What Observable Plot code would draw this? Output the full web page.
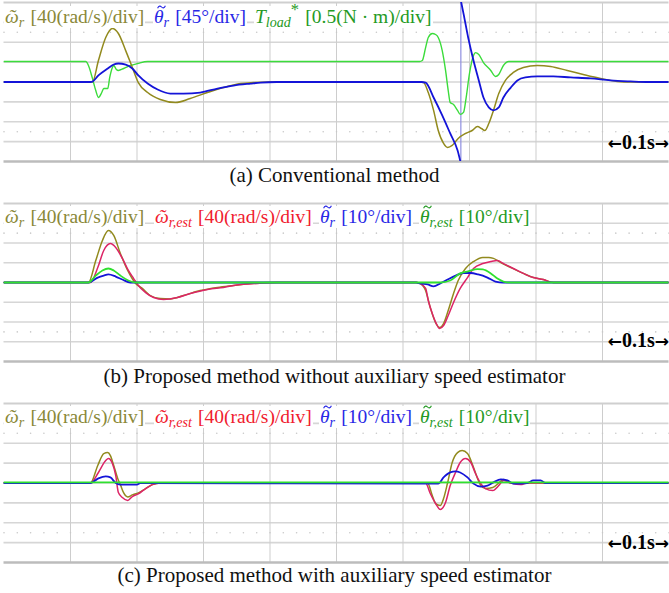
<!DOCTYPE html>
<html>
<head>
<meta charset="utf-8">
<script src="https://cdn.jsdelivr.net/npm/d3@7"></script>
<script src="https://cdn.jsdelivr.net/npm/@observablehq/plot@0.6"></script>
<style>
body{margin:0;background:#fff;}
#page{position:relative;width:669px;height:593px;overflow:hidden;font-family:"Liberation Serif","Times New Roman",serif;}
.panel{position:absolute;left:0;}
.leg{position:absolute;left:0;width:669px;height:22px;font-size:19.5px;line-height:22px;z-index:2;}
.g{position:absolute;top:0;background:#fff;padding:0 1px;white-space:nowrap;}
.g sub{font-size:0.72em;vertical-align:-0.32em;line-height:0;}
.g sup{font-size:0.85em;vertical-align:0.5em;line-height:0;}
.acc{position:relative;display:inline-block;}
.acc svg{position:absolute;left:3px;top:-1px;overflow:visible;}
.sp{display:inline-block;width:0.32em;}
.cap{position:absolute;left:0;width:669px;text-align:center;font-size:21px;line-height:21px;color:#111;}
.scale{position:absolute;right:0;font-size:20px;line-height:20px;font-weight:bold;color:#000;z-index:2;white-space:nowrap;}
.scale .ar{font-family:"DejaVu Sans";font-size:17px;}
</style>
</head>
<body>
<div id="page">
  <div class="panel" id="pa" style="top:0px"></div>
  <div class="leg" style="top:6px">
    <span class="g" style="left:4px;color:#8a8838"><i>ῶ</i><sub><i>r</i></sub><span class="sp"></span>[40(rad/s)/div]</span>
    <span class="g" style="left:153px;color:#2828e6"><i class="acc">θ<svg width="9" height="4"><path d="M0.6,3.2 C1.8,0.6 3.4,0.7 4.5,2 S7.2,3.5 8.4,0.8" fill="none" stroke="currentColor" stroke-width="1.1"/></svg></i><sub><i>r</i></sub><span class="sp"></span>[45°/div]</span>
    <span class="g" style="left:254px;color:#249a24"><i>T</i><sub><i>load</i></sub><sup>*</sup><span class="sp"></span>[0.5(N · m)/div]</span>
  </div>
  <div class="scale" style="top:132px"><span class="ar">←</span>0.1s<span class="ar">→</span></div>
  <div class="cap" style="top:165px">(a) Conventional method</div>

  <div class="panel" id="pb" style="top:201px"></div>
  <div class="leg" style="top:206px">
    <span class="g" style="left:4px;color:#8a8838"><i>ῶ</i><sub><i>r</i></sub><span class="sp"></span>[40(rad/s)/div]</span>
    <span class="g" style="left:154px;color:#f0202e"><i>ῶ</i><sub><i>r,est</i></sub><span class="sp"></span>[40(rad/s)/div]</span>
    <span class="g" style="left:319px;color:#2828e6"><i class="acc">θ<svg width="9" height="4"><path d="M0.6,3.2 C1.8,0.6 3.4,0.7 4.5,2 S7.2,3.5 8.4,0.8" fill="none" stroke="currentColor" stroke-width="1.1"/></svg></i><sub><i>r</i></sub><span class="sp"></span>[10°/div]</span>
    <span class="g" style="left:419px;color:#249a24"><i class="acc">θ<svg width="9" height="4"><path d="M0.6,3.2 C1.8,0.6 3.4,0.7 4.5,2 S7.2,3.5 8.4,0.8" fill="none" stroke="currentColor" stroke-width="1.1"/></svg></i><sub><i>r,est</i></sub><span class="sp"></span>[10°/div]</span>
  </div>
  <div class="scale" style="top:330px"><span class="ar">←</span>0.1s<span class="ar">→</span></div>
  <div class="cap" style="top:366px">(b) Proposed method without auxiliary speed estimator</div>

  <div class="panel" id="pc" style="top:401px"></div>
  <div class="leg" style="top:406px">
    <span class="g" style="left:4px;color:#8a8838"><i>ῶ</i><sub><i>r</i></sub><span class="sp"></span>[40(rad/s)/div]</span>
    <span class="g" style="left:154px;color:#f0202e"><i>ῶ</i><sub><i>r,est</i></sub><span class="sp"></span>[40(rad/s)/div]</span>
    <span class="g" style="left:319px;color:#2828e6"><i class="acc">θ<svg width="9" height="4"><path d="M0.6,3.2 C1.8,0.6 3.4,0.7 4.5,2 S7.2,3.5 8.4,0.8" fill="none" stroke="currentColor" stroke-width="1.1"/></svg></i><sub><i>r</i></sub><span class="sp"></span>[10°/div]</span>
    <span class="g" style="left:419px;color:#249a24"><i class="acc">θ<svg width="9" height="4"><path d="M0.6,3.2 C1.8,0.6 3.4,0.7 4.5,2 S7.2,3.5 8.4,0.8" fill="none" stroke="currentColor" stroke-width="1.1"/></svg></i><sub><i>r,est</i></sub><span class="sp"></span>[10°/div]</span>
  </div>
  <div class="scale" style="top:532px"><span class="ar">←</span>0.1s<span class="ar">→</span></div>
  <div class="cap" style="top:565px">(c) Proposed method with auxiliary speed estimator</div>
</div>
<script>
// grid divisions (oscilloscope screen: 10 x 8 divisions)
const xDivs = [0,1,2,3,4,5,6,7,8,9,10];
const yDivs = [-4,-3,-2,-1,0,1,2,3,4];

// ---- Panel (a): conventional method; values as [time div, value div]
const aSpeed = [[0,0],[1.27,0],[1.33,0],[1.42,1.08],[1.53,2.24],[1.63,2.69],[1.72,2.44],[1.83,1.58],[1.93,0.73],[2.02,-0.03],[2.16,-0.53],[2.35,-0.88],[2.58,-1.03],[2.80,-0.83],[3.06,-0.53],[3.30,-0.28],[3.56,-0.08],[3.75,-0.03],[4.0,0],[6.25,0],[6.31,-0.03],[6.38,-0.53],[6.46,-1.43],[6.53,-2.44],[6.61,-3.09],[6.67,-3.29],[6.74,-3.19],[6.83,-2.84],[6.94,-2.59],[7.04,-2.44],[7.12,-2.24],[7.18,-2.34],[7.23,-2.44],[7.29,-2.09],[7.36,-1.43],[7.44,-0.58],[7.54,0.08],[7.66,0.48],[7.81,0.73],[8.02,0.83],[8.22,0.78],[8.47,0.58],[8.71,0.38],[8.97,0.18],[9.22,0.03],[9.42,0],[10,0]];
// rotor angle error wraps around the screen at t = 6.87 div
const aAngleBefore = [[0,0],[1.30,0],[1.33,0.02],[1.42,0.33],[1.56,0.68],[1.65,0.88],[1.72,0.93],[1.83,0.88],[1.93,0.68],[2.02,0.33],[2.16,-0.08],[2.31,-0.38],[2.50,-0.58],[2.70,-0.58],[2.95,-0.53],[3.21,-0.33],[3.45,-0.18],[3.71,-0.08],[3.86,-0.03],[4.1,0],[6.28,0],[6.34,-0.03],[6.46,-0.78],[6.59,-1.68],[6.71,-2.59],[6.82,-3.44],[6.87,-4.1]];
const aAngleAfter = [[6.87,4.1],[6.91,3.44],[6.98,2.24],[7.06,1.08],[7.14,0.08],[7.21,-0.78],[7.29,-1.28],[7.36,-1.43],[7.44,-1.28],[7.51,-0.78],[7.62,-0.28],[7.72,0.08],[7.84,0.23],[8.02,0.28],[8.26,0.28],[8.52,0.23],[8.82,0.18],[9.12,0.08],[9.42,0.03],[9.7,0],[10,0]];
const aAngleWrap = [6.87];
const aTorque = [[0,1.03],[1.23,1.03],[1.27,0.83],[1.33,0.18],[1.38,-0.43],[1.42,-0.78],[1.47,-0.53],[1.50,-0.33],[1.56,-0.33],[1.59,0.23],[1.63,0.73],[1.65,0.83],[1.69,0.63],[1.72,0.58],[1.80,0.68],[1.90,0.83],[2.01,0.93],[2.16,1.03],[6.25,1.03],[6.29,1.08],[6.34,1.73],[6.38,2.24],[6.44,2.44],[6.49,2.39],[6.53,2.24],[6.59,1.58],[6.64,0.58],[6.68,-0.43],[6.71,-1.03],[6.76,-1.13],[6.82,-1.43],[6.86,-1.63],[6.91,-1.53],[6.95,-0.78],[7.00,0.43],[7.06,1.33],[7.09,1.48],[7.14,1.38],[7.21,0.98],[7.32,0.58],[7.39,0.28],[7.44,0.38],[7.51,0.83],[7.59,1.03],[10,1.03]];

// ---- Panel (b): proposed without auxiliary speed estimator
const bSpeed = [[0,0],[1.27,0],[1.38,1.11],[1.48,2.13],[1.57,2.63],[1.65,2.38],[1.75,1.47],[1.86,0.61],[1.98,-0.05],[2.08,-0.30],[2.20,-0.66],[2.35,-0.81],[2.50,-0.83],[2.70,-0.66],[2.95,-0.41],[3.21,-0.25],[3.45,-0.15],[3.71,-0.05],[4.0,0],[6.2,0],[6.26,-0.05],[6.34,-0.41],[6.41,-1.27],[6.49,-2.03],[6.55,-2.28],[6.61,-2.08],[6.68,-1.42],[6.76,-0.56],[6.83,0.10],[6.94,0.71],[7.06,1.06],[7.20,1.27],[7.29,1.27],[7.36,1.22],[7.47,1.01],[7.62,0.76],[7.81,0.46],[7.96,0.25],[8.11,0.15],[8.26,0],[10,0]];
const bSpeedEst = [[0,0],[1.30,0],[1.41,0.76],[1.50,1.62],[1.60,1.97],[1.68,1.77],[1.78,1.22],[1.87,0.61],[1.95,0.20],[2.02,-0.15],[2.13,-0.51],[2.25,-0.76],[2.40,-0.86],[2.61,-0.76],[2.80,-0.56],[3.06,-0.35],[3.30,-0.25],[3.56,-0.10],[3.81,-0.05],[4.1,0],[6.2,0],[6.26,-0.05],[6.34,-0.30],[6.38,-0.91],[6.44,-1.57],[6.50,-2.08],[6.55,-2.33],[6.61,-2.18],[6.68,-1.67],[6.76,-1.01],[6.86,-0.30],[6.97,0.25],[7.06,0.71],[7.20,0.96],[7.32,1.06],[7.42,1.11],[7.51,0.96],[7.66,0.71],[7.81,0.46],[7.96,0.25],[8.11,0.15],[8.26,0],[10,0]];
const bAngle = [[0,0],[1.27,0],[1.41,0.25],[1.50,0.35],[1.57,0.41],[1.68,0.30],[1.78,0.15],[1.90,0],[6.2,0],[6.26,-0.05],[6.37,-0.10],[6.46,-0.20],[6.56,-0.05],[6.67,0.15],[6.79,0.35],[6.91,0.48],[7.01,0.48],[7.13,0.41],[7.27,0.25],[7.39,0.05],[7.51,0],[10,0]];
const bAngleEst = [[0,0],[1.27,0],[1.38,0.35],[1.48,0.61],[1.57,0.71],[1.65,0.61],[1.75,0.35],[1.87,0.10],[1.98,0],[6.56,0],[6.71,0.10],[6.86,0.46],[6.98,0.56],[7.12,0.68],[7.20,0.66],[7.32,0.46],[7.42,0.20],[7.51,0.05],[7.62,0],[10,0]];

// ---- Panel (c): proposed with auxiliary speed estimator
const cSpeed = [[0,0],[1.30,0],[1.41,0.88],[1.50,1.48],[1.56,1.53],[1.60,1.38],[1.65,0.88],[1.71,0.23],[1.75,-0.08],[1.80,-0.5],[1.86,-0.7],[1.93,-0.6],[2.02,-0.5],[2.13,-0.28],[2.23,-0.08],[2.35,0],[6.37,0],[6.44,-0.63],[6.49,-1.03],[6.56,-1.13],[6.61,-0.78],[6.67,0],[6.74,1.03],[6.82,1.53],[6.89,1.63],[6.97,1.48],[7.05,0.88],[7.12,0.23],[7.17,-0.13],[7.24,-0.28],[7.35,-0.23],[7.44,0],[7.51,0.18],[7.62,0],[10,0]];
const cSpeedEst = [[0,0],[1.30,0],[1.42,0.53],[1.53,1.13],[1.57,1.23],[1.63,0.98],[1.68,0.38],[1.72,-0.48],[1.78,-0.73],[1.86,-0.88],[1.93,-0.68],[2.02,-0.55],[2.13,-0.28],[2.23,-0.08],[2.35,0],[6.34,0],[6.41,-0.53],[6.49,-1.03],[6.56,-1.33],[6.64,-0.98],[6.71,-0.13],[6.79,0.53],[6.86,1.03],[6.94,1.23],[7.02,1.03],[7.09,0.48],[7.17,-0.03],[7.24,-0.28],[7.35,-0.38],[7.44,-0.13],[7.51,0.13],[7.62,0],[7.77,-0.08],[7.87,0],[10,0]];
const cAngle = [[0,0],[1.30,0],[1.42,0.23],[1.53,0.33],[1.60,0.28],[1.68,0],[1.75,-0.08],[2.0,-0.08],[2.05,0],[6.37,-0.03],[6.53,-0.03],[6.61,0.28],[6.71,0.53],[6.79,0.58],[6.86,0.53],[6.97,0.28],[7.06,-0.03],[7.17,-0.18],[7.27,-0.13],[7.36,0.03],[7.47,0.18],[7.57,0.13],[7.66,-0.03],[7.87,0],[7.96,0.13],[8.07,0.13],[8.14,0],[10,0]];
const cAngleEst = [[0,0.03],[10,0.03]];

const COL = {speed:"#928a1e", est:"#dc2466", angle:"#1414d8", torque:"#3bdc3b", angleEst:"#2fe02f"};

function minorDots() {
  const pts = [];
  for (const x of d3.range(0, 10.001, 0.2)) for (const y of [-2.5, 2.5]) pts.push([x, y]);
  return pts;
}

function panel(traces, h, extra = []) {
  const marks = [
    Plot.ruleY(yDivs.slice(1,-1), {stroke:"#d6d6d6", strokeWidth:1.6}),
    Plot.ruleX(xDivs.slice(1,-1), {stroke:"#cdcdcd", strokeWidth:1}),
    Plot.dot(minorDots(), {x:d=>d[0], y:d=>d[1], r:0.8, fill:"#c8c8c8", stroke:null}),
    Plot.ruleY([-4], {stroke:"#bcbcbc", strokeWidth:2.5}),
    Plot.ruleY([4], {stroke:"#cfcfcf", strokeWidth:2}),
    ...extra
  ];
  for (const tr of traces) {
    marks.push(Plot.line(tr.data, {x:d=>d[0], y:d=>d[1], stroke:tr.color, strokeWidth:tr.w, curve:"monotone-x", clip:true}));
  }
  return Plot.plot({
    width:669, height:h, marginLeft:3.5, marginRight:0.5, marginTop:2, marginBottom:2,
    x:{domain:[0,10], axis:null}, y:{domain:[-4,4], axis:null},
    style:{background:"transparent"},
    marks
  });
}

document.getElementById("pa").append(panel([
  {data:aTorque, color:COL.torque, w:1.4},
  {data:aSpeed, color:COL.speed, w:1.5},
  {data:aAngleBefore, color:COL.angle, w:1.8},
  {data:aAngleAfter, color:COL.angle, w:1.8}
], 163, [Plot.ruleX(aAngleWrap, {stroke:"#8f8fe0", strokeWidth:1.2})]));
document.getElementById("pb").append(panel([
  {data:bSpeed, color:COL.speed, w:1.5},
  {data:bSpeedEst, color:COL.est, w:1.5},
  {data:bAngle, color:COL.angle, w:1.8},
  {data:bAngleEst, color:COL.angleEst, w:1.8}
], 162));
document.getElementById("pc").append(panel([
  {data:cSpeed, color:COL.speed, w:1.5},
  {data:cSpeedEst, color:COL.est, w:1.5},
  {data:cAngle, color:COL.angle, w:1.8},
  {data:cAngleEst, color:COL.angleEst, w:1.8}
], 163));
</script>
</body>
</html>
